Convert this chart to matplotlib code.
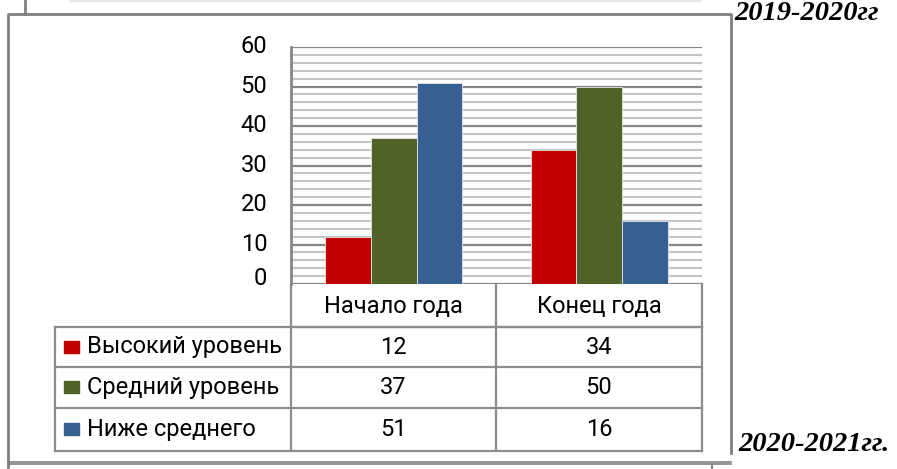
import numpy as np
import matplotlib
import matplotlib.pyplot as plt
import matplotlib.transforms as mtransforms
from matplotlib.patches import Rectangle
matplotlib.use('Agg')

plt.rcParams['font.family'] = ['Roboto', 'DejaVu Sans']

# data
periods = ['Начало года', 'Конец года']
levels = ['Высокий уровень', 'Средний уровень', 'Ниже среднего']
high = [12, 34]
middle = [37, 50]
low = [51, 16]
colors = ['#c00000', '#4f6228', '#376092']
y_ticks = [0, 10, 20, 30, 40, 50, 60]

W, H = 897, 469
fig = plt.figure(figsize=(W / 100, H / 100), dpi=100)

# overlay in pixel coords for frames and the data table
ov = fig.add_axes([0, 0, 1, 1], zorder=0)
ov.set_xlim(0, W)
ov.set_ylim(H, 0)
ov.axis('off')

# plot area (pixels)
px0, px1, py0, py1 = 291, 702, 47, 284
ax = fig.add_axes([px0 / W, 1 - py1 / H, (px1 - px0) / W, (py1 - py0) / H], zorder=2)
ax.patch.set_alpha(0)

series = [high, middle, low]
x = np.arange(len(periods))
bw = 0.222
for k, vals in enumerate(series):
    ax.bar(x + (k - 1) * bw, vals, bw, color=colors[k], edgecolor='#e6e6e6',
           linewidth=0.6, zorder=3)

ax.set_xlim(-0.5, len(periods) - 0.5)
ax.set_ylim(0, 60)
ax.set_yticks(y_ticks)
ax.set_yticks(np.arange(0, 61, 2), minor=True)
ax.set_xticks([])
ax.grid(axis='y', which='major', color='#868686', lw=1.6, zorder=1)
ax.grid(axis='y', which='minor', color='#c4c4c4', lw=1.5, zorder=1)
for s in ['top', 'right', 'bottom']:
    ax.spines[s].set_visible(False)
ax.spines['left'].set_color('#868686')
ax.spines['left'].set_linewidth(2)
ax.tick_params(axis='y', which='both', length=0, pad=17, labelsize=17)

for lab in ax.get_yticklabels():
    up = 8 if lab.get_text() == '0' else 3
    lab.set_transform(lab.get_transform() +
                      mtransforms.ScaledTranslation(0, up / 100, fig.dpi_scale_trans))

# data table
lc = '#8c8c8c'
tl = 55
fs = 17
row_y = [py1, 327, 367, 408, 451]
col_x = [px0, 496, px1]
ov.plot([px0, px1], [row_y[1], row_y[1]], color=lc, lw=1.6)
for yy in row_y[1:]:
    ov.plot([tl, px1], [yy, yy], color=lc, lw=1.6)
ov.plot([tl, tl], [row_y[1], row_y[-1]], color=lc, lw=1.6)
for xx in col_x:
    ov.plot([xx, xx], [row_y[0], row_y[-1]], color=lc, lw=1.6)

for j, p in enumerate(periods):
    ov.text((col_x[j] + col_x[j + 1]) / 2, (row_y[0] + row_y[1]) / 2 + 1, p,
            ha='center', va='center', fontsize=fs)
for i, name in enumerate(levels):
    yc = (row_y[i + 1] + row_y[i + 2]) / 2
    ov.add_patch(Rectangle((64, yc - 6), 15, 12, color=colors[i]))
    ov.text(87, yc, name, ha='left', va='center', fontsize=fs)
    for j in range(len(periods)):
        ov.text((col_x[j] + col_x[j + 1]) / 2, yc, str(series[i][j]),
                ha='center', va='center', fontsize=fs)

# page frames around the chart
fc = '#808080'
ov.plot([8, 8, 731, 731], [H, 14, 14, 453], color=fc, lw=2)
ov.plot([25, 25], [0, 14], color=fc, lw=2)
ov.plot([70, 700], [1, 1], color='#e8e8e8', lw=1.5)
ov.plot([8, 731], [462, 462], color=fc, lw=1.2)
ov.plot([8, 731], [464.5, 464.5], color=fc, lw=1.2)
ov.plot([712, 712], [464, H], color=fc, lw=1.5)

serif = dict(family='Liberation Serif', weight='bold', style='italic', fontsize=20.5)
ov.text(734, 1, '2019-2020гг', ha='left', va='top', **serif)
ov.text(738, 451, '2020-2021гг.', ha='left', va='baseline', **serif)

fig.savefig('out.png', dpi=100)
